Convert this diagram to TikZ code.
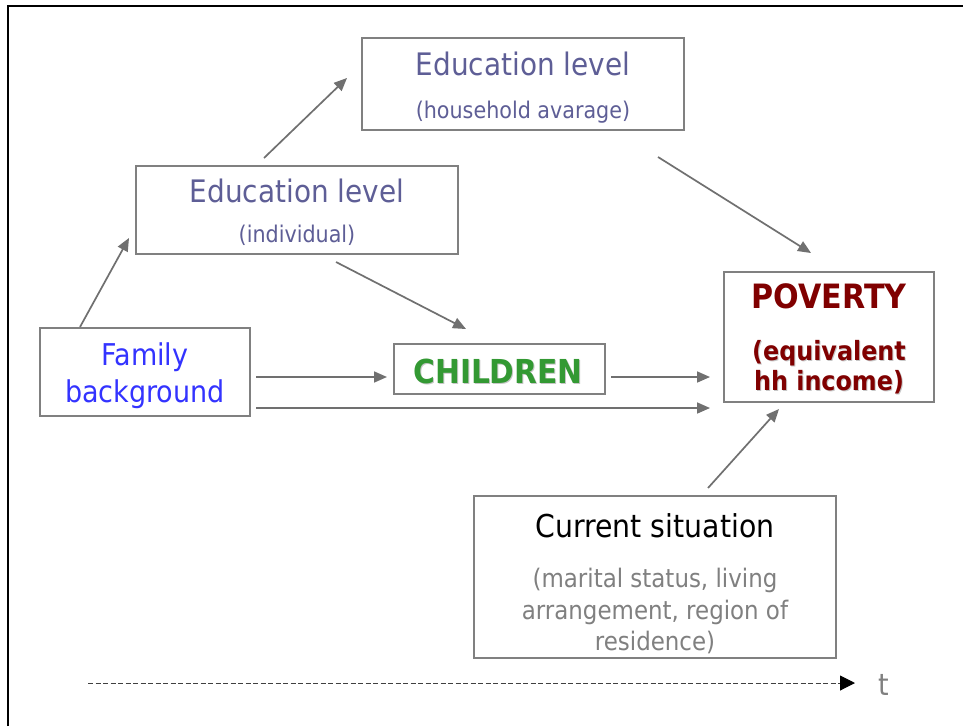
\documentclass[tikz,border=0pt]{standalone}
\usepackage{fontspec}
\setmainfont{DejaVu Sans Condensed}
\usetikzlibrary{arrows.meta}
\definecolor{edu}{RGB}{94,94,150}
\definecolor{fam}{RGB}{51,51,255}
\definecolor{kid}{RGB}{51,153,51}
\definecolor{pov}{RGB}{128,0,0}
\definecolor{boxline}{RGB}{128,128,128}
\definecolor{arrline}{RGB}{112,112,112}
\definecolor{subgray}{RGB}{128,128,128}
\tikzset{
  box/.style={draw=boxline, line width=2pt, inner sep=0pt, rectangle},
  lbl/.style={anchor=base, inner sep=0pt},
  conn/.style={draw=arrline, line width=1.7pt, -{Triangle[length=13pt,width=11pt]}},
  shade/.style={anchor=base, inner sep=0pt, text=black!22},
}
\newcommand{\fsz}[1]{\fontsize{#1}{#1}\selectfont}
\begin{document}
\begin{tikzpicture}[x=1pt,y=-1pt]
\useasboundingbox (0,0) rectangle (963,726);
\fill[white] (0,0) rectangle (963,726);
% frame
\draw[line width=2.5pt, black] (8,726) -- (8,6) -- (963,6);
% boxes
\node[box, minimum width=322, minimum height=92] (hh) at (523,84) {};
\node[box, minimum width=322, minimum height=88] (ind) at (297,210) {};
\node[box, minimum width=210, minimum height=88] (fam) at (145,372) {};
\node[box, minimum width=211, minimum height=50] (kid) at (499.5,369) {};
\node[box, minimum width=210, minimum height=130] (pov) at (829,337) {};
\node[box, minimum width=362, minimum height=162] (cur) at (655,577) {};
% texts
\node[lbl, text=edu] (hh1) at (523,75) {\fsz{31}Education level};
\node[lbl, text=edu] (hh2) at (523,118) {\fsz{23}(household avarage)};
\node[lbl, text=edu] (ind1) at (297,202) {\fsz{31}Education level};
\node[lbl, text=edu] (ind2) at (297,242) {\fsz{23}(individual)};
\node[lbl, text=fam] (fam1) at (145,365) {\fsz{30}Family};
\node[lbl, text=fam] (fam2) at (145,402) {\fsz{30}background};
\node[shade] at (499,384) {\fsz{33}\bfseries CHILDREN};
\node[lbl, text=kid] (kid1) at (498,383) {\fsz{33}\bfseries CHILDREN};
\node[lbl, text=pov] (pov1) at (829,308) {\fsz{33.5}\bfseries POVERTY};
\node[shade] at (830,361) {\fsz{26.5}\bfseries (equivalent};
\node[shade] at (830,391) {\fsz{26.5}\bfseries hh income)};
\node[lbl, text=pov] (pov2) at (829,360) {\fsz{26.5}\bfseries (equivalent};
\node[lbl, text=pov] (pov3) at (829,390) {\fsz{26.5}\bfseries hh income)};
\node[lbl, text=black] (cur1) at (655,537) {\fsz{31.5}Current situation};
\node[lbl, text=subgray] (cur2) at (655,587) {\fsz{25.5}(marital status, living};
\node[lbl, text=subgray] (cur3) at (655,619) {\fsz{25.5}arrangement, region of};
\node[lbl, text=subgray] (cur4) at (655,650) {\fsz{25.5}residence)};
\node[lbl, text=subgray] (tlbl) at (884,695) {\fsz{30}t};
% connector end points
\coordinate (a1s) at (80,327);  \coordinate (a1e) at (129,238);
\coordinate (a2s) at (264,158); \coordinate (a2e) at (347,78);
\coordinate (a3s) at (336,262); \coordinate (a3e) at (466,329);
\coordinate (a4s) at (658,157); \coordinate (a4e) at (811,253);
\coordinate (a5s) at (256,377); \coordinate (a5e) at (387,377);
\coordinate (a6s) at (611,377); \coordinate (a6e) at (710,377);
\coordinate (a7s) at (256,408); \coordinate (a7e) at (710,408);
\coordinate (a8s) at (708,488); \coordinate (a8e) at (779,409);
\coordinate (ts) at (88,683);   \coordinate (te) at (855,683);
% connectors
\draw[conn] (a1s) -- (a1e);
\draw[conn] (a2s) -- (a2e);
\draw[conn] (a3s) -- (a3e);
\draw[conn] (a4s) -- (a4e);
\draw[conn] (a5s) -- (a5e);
\draw[conn] (a6s) -- (a6e);
\draw[conn] (a7s) -- (a7e);
\draw[conn] (a8s) -- (a8e);
% time axis
\draw[black!75, line width=1pt, dash pattern=on 5pt off 2.5pt, -{Triangle[length=15pt,width=15pt,black]}] (ts) -- (te);
\end{tikzpicture}
\end{document}
